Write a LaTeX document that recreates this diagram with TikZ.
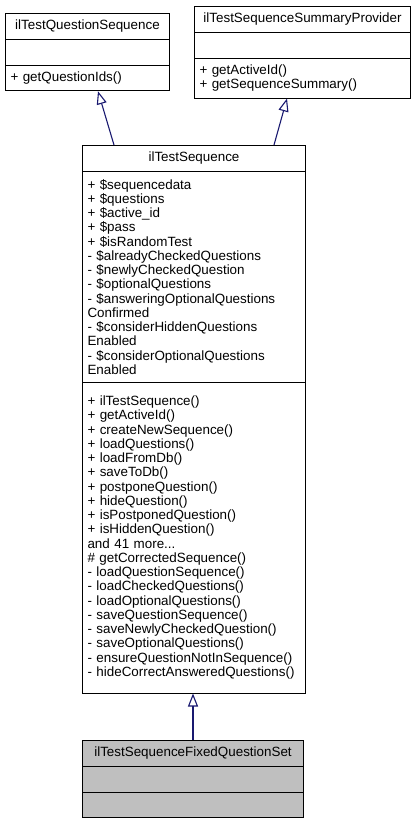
\documentclass[tikz,border=0pt]{standalone}
\usepackage{fontspec}
\setmainfont{Liberation Sans}
\usetikzlibrary{arrows.meta}
\definecolor{edgeblue}{HTML}{191970}
\definecolor{classgray}{HTML}{BFBFBF}

\begin{document}
\begin{tikzpicture}
  % class diagram
  \begin{scope}[x=1pt, y=-1pt, every node/.style={draw, fill=white, anchor=north west, inner xsep=5pt, inner ysep=0pt, line width=1pt, font=\fontsize{13.4}{14.25}\selectfont},
      inheritarrow/.style={draw=edgeblue, line width=1.1pt, -{Triangle[open, length=13pt, width=10pt]}}]
    \useasboundingbox (0,0) rectangle (415,823);

    % ilTestQuestionSequence
    \node[text width=154pt, align=center, minimum height=25.75pt] (a0) at (5,13) {ilTestQuestionSequence};
    \node[text width=154pt, align=left, minimum height=25.75pt] (a1) at (5,38.75) {};
    \node[text width=154pt, align=left, minimum height=25.75pt] (a2) at (5,64.5) {+ getQuestionIds()};

    % ilTestSequenceSummaryProvider
    \node[text width=206pt, align=center, minimum height=25.75pt] (b0) at (194,6) {ilTestSequenceSummaryProvider};
    \node[text width=206pt, align=left, minimum height=25.75pt] (b1) at (194,31.75) {};
    \node[text width=206pt, align=left, minimum height=40pt] (b2) at (194,57.5) {+ getActiveId()\\+ getSequenceSummary()};

    % ilTestSequence
    \node[text width=213pt, align=center, minimum height=25.75pt] (c0) at (82,145) {ilTestSequence};
    \node[text width=213pt, align=left, minimum height=211pt] (c1) at (82,170.75) {+ \$sequencedata\\
      + \$questions\\
      + \$active\_id\\
      + \$pass\\
      + \$isRandomTest\\
      - \$alreadyCheckedQuestions\\
      - \$newlyCheckedQuestion\\
      - \$optionalQuestions\\
      - \$answeringOptionalQuestions\\
      Confirmed\\
      - \$considerHiddenQuestions\\
      Enabled\\
      - \$considerOptionalQuestions\\
      Enabled};
    \node[text width=213pt, align=left, minimum height=310.75pt] (c2) at (82,381.75) {+ ilTestSequence()\\
      + getActiveId()\\
      + createNewSequence()\\
      + loadQuestions()\\
      + loadFromDb()\\
      + saveToDb()\\
      + postponeQuestion()\\
      + hideQuestion()\\
      + isPostponedQuestion()\\
      + isHiddenQuestion()\\
      and 41 more...\\
      \# getCorrectedSequence()\\
      - loadQuestionSequence()\\
      - loadCheckedQuestions()\\
      - loadOptionalQuestions()\\
      - saveQuestionSequence()\\
      - saveNewlyCheckedQuestion()\\
      - saveOptionalQuestions()\\
      - ensureQuestionNotInSequence()\\
      - hideCorrectAnsweredQuestions()};

    % ilTestSequenceFixedQuestionSet
    \node[fill=classgray, text width=211pt, align=center, minimum height=25.75pt] (d0) at (82,740) {ilTestSequenceFixedQuestionSet};
    \node[fill=classgray, text width=211pt, align=left, minimum height=25.75pt] (d1) at (82,765.75) {};
    \node[fill=classgray, text width=211pt, align=left, minimum height=25.75pt] (d2) at (82,791.5) {};

    % Inheritance
    \draw[inheritarrow] ([xshift=32pt]c0.north west) -- ([xshift=93pt]a2.south west);
    \draw[inheritarrow] ([xshift=192pt]c0.north west) -- ([xshift=93pt]b2.south west);
    \draw[inheritarrow] ([xshift=111pt]d0.north west) -- ([xshift=111pt]c2.south west);

  \end{scope}
\end{tikzpicture}
\end{document}
